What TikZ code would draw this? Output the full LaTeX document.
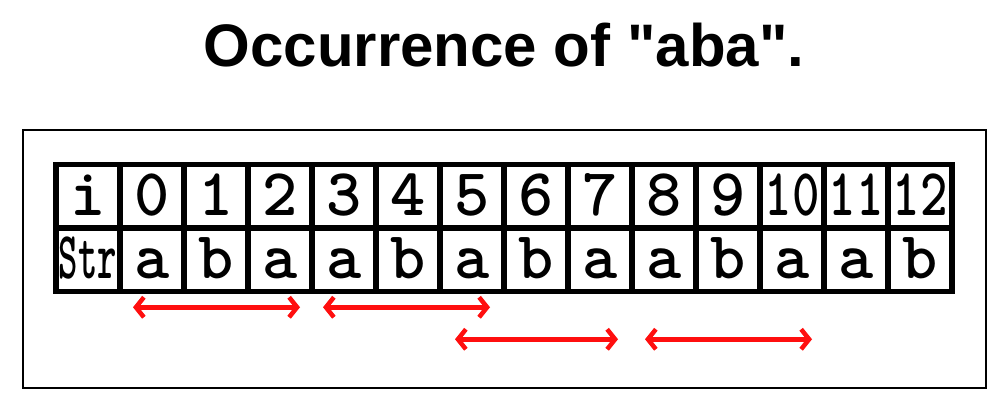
\documentclass[tikz,border=0pt]{standalone}
\usepackage{fontspec}
\setmainfont{Liberation Sans}
\newfontfamily\titlefont{Liberation Sans}
\usetikzlibrary{arrows.meta,calc}
\definecolor{arrred}{HTML}{FF0F0F}
\tikzset{
  cell/.style={draw=black, line width=5.5pt, minimum width=64pt, minimum height=63.5pt, inner sep=0pt, outer sep=0pt},
  celltext/.style={anchor=base, inner sep=0pt, font=\ttfamily\bfseries\fontsize{67}{67}\selectfont},
  occ/.style={draw=arrred, line width=4.5pt, {Straight Barb[length=8pt,width=20pt,line width=4.5pt]}-{Straight Barb[length=8pt,width=20pt,line width=4.5pt]}},
  frame/.style={draw=black, line width=1.6pt},
  title/.style={font=\titlefont\bfseries\fontsize{60}{60}\selectfont, inner sep=0pt}
}
\begin{document}
\begin{tikzpicture}[x=1pt,y=-1pt]
\useasboundingbox (0,0) rectangle (1008,404);
\node[title] (title) at (504,45) {Occurrence of "aba".};
\node[frame, minimum width=963pt, minimum height=258pt, inner sep=0pt] (box) at (504.5,259) {};
% header row
\foreach \t [count=\j from 0] in {i,0,1,2,3,4,5,6,7,8,9,10,11,12} {
  \node[cell] (h\j) at ({88+64*\j},196) {};
}
\foreach \t [count=\j from 0] in {S,a,b,a,a,b,a,b,a,a,b,a,a,b} {
  \node[cell] (r\j) at ({88+64*\j},259.5) {};
}
% header text
\foreach \t [count=\j from 0] in {i,0,1,2,3,4,5,6,7,8,9} {
  \node[celltext] (ht\j) at ($(h\j.center)+(0,19)$) {\t};
}
\node[celltext] (ht11) at ($(h11.center)+(0,19)$) {\scalebox{0.78}[1]{10}};
\node[celltext] (ht12) at ($(h12.center)+(0,19)$) {\scalebox{0.78}[1]{11}};
\node[celltext] (ht13) at ($(h13.center)+(0,19)$) {\scalebox{0.78}[1]{12}};
% string text
\node[celltext] (rt0) at ($(r0.center)+(0,18.5)$) {\scalebox{0.55}[1]{Str}};
\foreach \t [count=\j from 1] in {a,b,a,a,b,a,b,a,a,b,a,a,b} {
  \node[celltext] (rt\j) at ($(r\j.center)+(0,18.5)$) {\t};
}
% arrow end points
\coordinate (a1l) at ($(r1.south west)+(13,16)$);
\coordinate (a1r) at ($(r3.south east)+(-12,16)$);
\coordinate (a2l) at ($(r4.south west)+(11,16)$);
\coordinate (a2r) at ($(r6.south east)+(-14,16)$);
\coordinate (a3l) at ($(r6.south west)+(15,48)$);
\coordinate (a3r) at ($(r8.south east)+(-14,48)$);
\coordinate (a4l) at ($(r9.south west)+(13,48)$);
\coordinate (a4r) at ($(r11.south east)+(-12,48)$);
\draw[occ] (a1l) -- (a1r);
\draw[occ] (a2l) -- (a2r);
\draw[occ] (a3l) -- (a3r);
\draw[occ] (a4l) -- (a4r);
\end{tikzpicture}
\end{document}
